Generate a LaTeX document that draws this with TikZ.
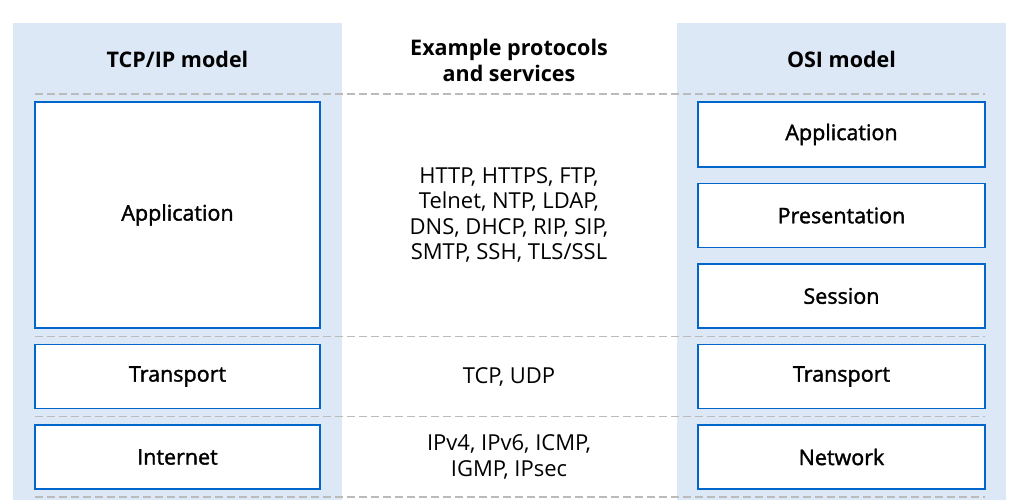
\documentclass[tikz,border=0pt]{standalone}
\usepackage{fontspec}
\setmainfont{Open Sans}
\newfontfamily\medfont{Open Sans}[FakeBold=1.6]
\usetikzlibrary{positioning}
\definecolor{panelblue}{HTML}{DCE8F5}
\definecolor{boxblue}{HTML}{0066CC}
\definecolor{sepgray}{HTML}{BBBBBB}
\tikzset {
  node distance={15pt},
  % shaded columns behind the two models
  panel/.style={fill=panelblue, draw=none},
  % one layer of a model
  layer/.style={draw=boxblue, line width=1.5pt, fill=white, inner sep=0pt,
    minimum height=64pt, font=\medfont\fontsize{21.5}{25}\selectfont},
  tcp/.style={layer, minimum width=285pt},
  osi/.style={layer, minimum width=287pt},
  % column titles
  head/.style={align=center, font=\bfseries\fontsize{21.5}{26}\selectfont},
  % protocol lists in the middle
  proto/.style={align=center, font=\fontsize{22}{25.5}\selectfont},
  % dashed row separators
  sep/.style={sepgray, line width=1.5pt, dash pattern=on 8pt off 4pt},
}

\begin{document}
\begin{tikzpicture}[x=1pt, y=-1pt]
  \useasboundingbox (0,0) rectangle (1036,500);

  \fill[panel] (13,23) rectangle (342,500);
  \fill[panel] (677,23) rectangle (1006,500);

  \foreach \y in {94,336.5,416.5,497}
    \draw[sep] (35,\y) -- (985,\y);

  \node[head] (tcphead) at (177.5,59) {TCP/IP model};
  \node[head] (exhead) at (509,60) {Example protocols\\and services};
  \node[head] (osihead) at (841.5,59) {OSI model};

  % TCP/IP layers
  \node[tcp, minimum height=226pt] (tapp) at (177.5,215) {Application};
  \node[tcp] (ttrans) [below=of tapp] {Transport};
  \node[tcp] (tnet) [below=of ttrans] {Internet};

  % OSI layers
  \node[osi, minimum height=65pt] (oapp) at (841.5,134.5) {Application};
  \node[osi] (opres) [below=of oapp] {Presentation};
  \node[osi] (osess) [below=of opres] {Session};
  \node[osi] (otrans) [below=of osess] {Transport};
  \node[osi] (onet) [below=of otrans] {Network};

  % protocols
  \node[proto] (papp) at (509,215) {HTTP, HTTPS, FTP,\\Telnet, NTP, LDAP,\\DNS, DHCP, RIP, SIP,\\SMTP, SSH, TLS/SSL};
  \node[proto] (ptrans) at (509,377) {TCP, UDP};
  \node[proto] (pnet) at (509,457) {IPv4, IPv6, ICMP,\\IGMP, IPsec};
\end{tikzpicture}
\end{document}
